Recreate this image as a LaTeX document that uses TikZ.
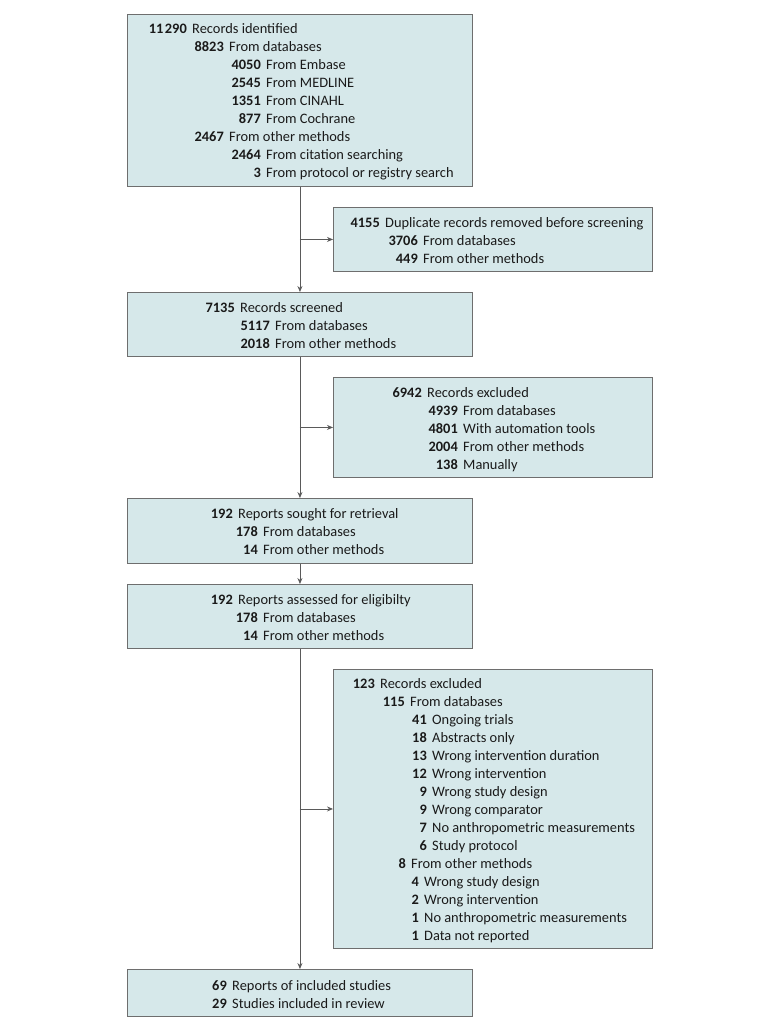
\documentclass[tikz,border=0pt]{standalone}
\usepackage{fontspec}
\setmainfont{Carlito}
\usetikzlibrary{arrows.meta}
\definecolor{boxfill}{HTML}{D6E8EA}
\definecolor{boxline}{HTML}{6E6E6E}
\definecolor{arrline}{HTML}{5A5A5A}
\definecolor{txt}{HTML}{1A1A1A}
\newcounter{rc}
\newcommand\rw[4]{\stepcounter{rc}%
  \node[num] (n\arabic{rc}) at (#1,#2+5) {#3};
  \node[lbl] (l\arabic{rc}) at ([xshift=5pt]n\arabic{rc}.base east) {#4};}
\begin{document}
\begin{tikzpicture}[x=1pt,y=-1pt,
  box/.style={draw=boxline, fill=boxfill, line width=0.9pt, rectangle, anchor=north west, inner sep=0pt},
  num/.style={anchor=base east, inner sep=0pt, text=txt, font=\fontsize{14.4}{17}\selectfont\bfseries},
  lbl/.style={anchor=base west, inner sep=0pt, text=txt, font=\fontsize{14.4}{17}\selectfont},
  arr/.style={draw=arrline, line width=0.8pt, -{Stealth[length=6pt,width=5pt]}}]
\useasboundingbox (0,0) rectangle (780,1029);
% boxes
\node[box, minimum width=345pt, minimum height=172pt] (b1) at (127,14) {};
\node[box, minimum width=319pt, minimum height=64pt] (b2) at (333,207) {};
\node[box, minimum width=345pt, minimum height=64pt] (b3) at (127,292) {};
\node[box, minimum width=319pt, minimum height=100pt] (b4) at (333,377) {};
\node[box, minimum width=345pt, minimum height=65pt] (b5) at (127,498) {};
\node[box, minimum width=345pt, minimum height=64pt] (b6) at (127,584) {};
\node[box, minimum width=319pt, minimum height=279pt] (b7) at (333,669) {};
\node[box, minimum width=345pt, minimum height=47pt] (b8) at (127,969) {};
% box 1
\rw{187}{28}{11\kern1.5pt290}{Records identified}
\rw{224}{46}{8823}{From databases}
\rw{261}{64}{4050}{From Embase}
\rw{261}{82}{2545}{From MEDLINE}
\rw{261}{100}{1351}{From CINAHL}
\rw{261}{118}{877}{From Cochrane}
\rw{224}{136}{2467}{From other methods}
\rw{261}{154}{2464}{From citation searching}
\rw{261}{172}{3}{From protocol or registry search}
% box 2
\rw{380}{222}{4155}{Duplicate records removed before screening}
\rw{418}{240}{3706}{From databases}
\rw{418}{258}{449}{From other methods}
% box 3
\rw{235}{307}{7135}{Records screened}
\rw{270}{325}{5117}{From databases}
\rw{270}{343}{2018}{From other methods}
% box 4
\rw{422}{392}{6942}{Records excluded}
\rw{458}{410}{4939}{From databases}
\rw{458}{428}{4801}{With automation tools}
\rw{458}{446}{2004}{From other methods}
\rw{458}{464}{138}{Manually}
% box 5
\rw{233}{513}{192}{Reports sought for retrieval}
\rw{258}{531}{178}{From databases}
\rw{258}{549}{14}{From other methods}
% box 6
\rw{233}{599}{192}{Reports assessed for eligibilty}
\rw{258}{617}{178}{From databases}
\rw{258}{635}{14}{From other methods}
% box 7
\rw{375}{683}{123}{Records excluded}
\rw{405}{701}{115}{From databases}
\rw{427}{719}{41}{Ongoing trials}
\rw{427}{737}{18}{Abstracts only}
\rw{427}{755}{13}{Wrong intervention duration}
\rw{427}{773}{12}{Wrong intervention}
\rw{427}{791}{9}{Wrong study design}
\rw{427}{809}{9}{Wrong comparator}
\rw{427}{827}{7}{No anthropometric measurements}
\rw{427}{845}{6}{Study protocol}
\rw{406}{863}{8}{From other methods}
\rw{419}{881}{4}{Wrong study design}
\rw{419}{899}{2}{Wrong intervention}
\rw{419}{917}{1}{No anthropometric measurements}
\rw{419}{935}{1}{Data not reported}
% box 8
\rw{227}{985}{69}{Reports of included studies}
\rw{227}{1003}{29}{Studies included in review}
% connectors
\coordinate (j1) at (b1.south |- b2.west);
\coordinate (j2) at (b3.south |- b4.west);
\coordinate (j3) at (b6.south |- b7.west);
\draw[arr] (b1.south) -- (b3.north);
\draw[arr] (j1) -- (b2.west);
\draw[arr] (b3.south) -- (b5.north);
\draw[arr] (j2) -- (b4.west);
\draw[arr] (b5.south) -- (b6.north);
\draw[arr] (b6.south) -- (b8.north);
\draw[arr] (j3) -- (b7.west);
\end{tikzpicture}
\end{document}
